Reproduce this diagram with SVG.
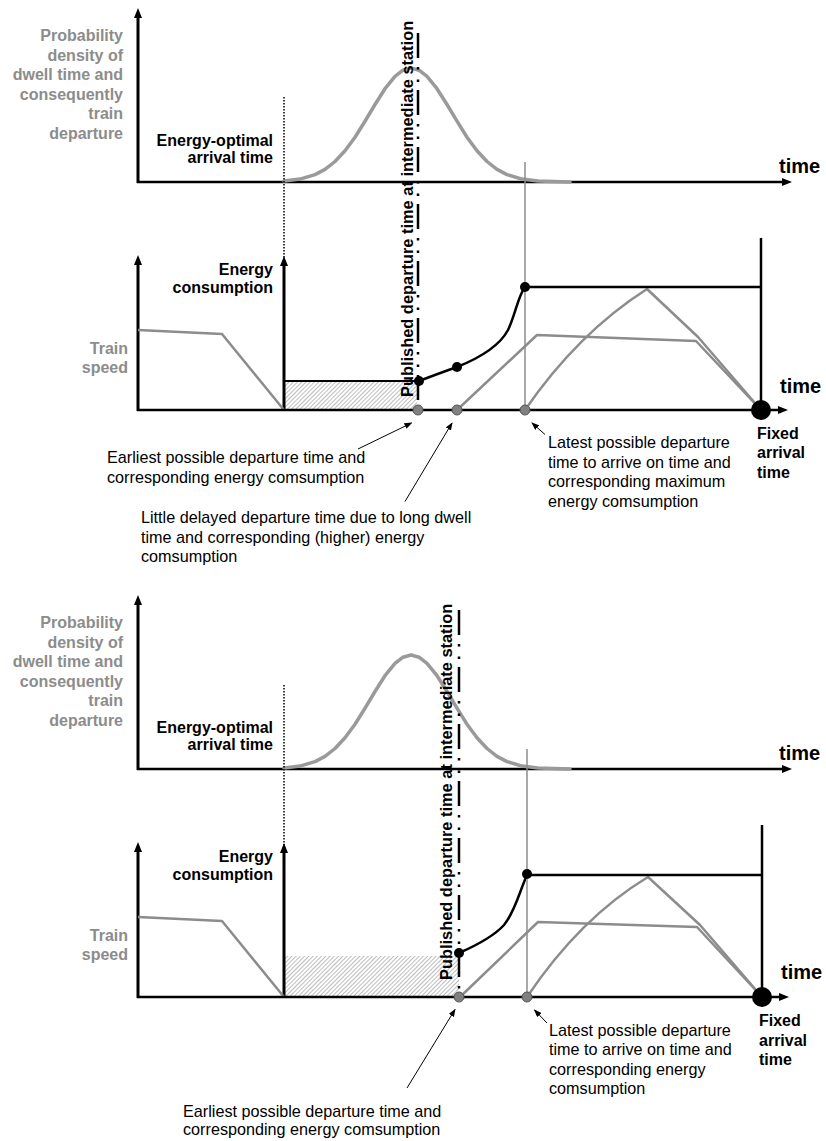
<svg xmlns="http://www.w3.org/2000/svg" width="826" height="1141" viewBox="0 0 826 1141">
<style>
text{font-family:"Liberation Sans",Arial,Helvetica,sans-serif}
.lbl{font-size:16px;font-weight:bold;fill:#000}
.glbl{font-size:16px;font-weight:bold;fill:#8c8c8c}
.note{font-size:16.2px;fill:#000}
.tm{font-size:20px;font-weight:bold;fill:#000}
.vt{font-size:16.4px;font-weight:bold;fill:#000}
.axis{stroke:#000;stroke-width:3;fill:none;marker-end:url(#ax)}
.xaxis{stroke:#000;stroke-width:2.5;fill:none;marker-end:url(#ax)}
.speed{stroke:#8c8c8c;stroke-width:2.5;fill:none;stroke-linejoin:round}
.gauss{stroke:#9a9a9a;stroke-width:3.5;fill:none;stroke-linejoin:round;stroke-linecap:round}
.energy{stroke:#000;stroke-width:2.5;fill:none}
.pub{stroke:#000;stroke-width:2.5;stroke-dasharray:25 9 2.5 10 2.5 8;fill:none}
.opt{stroke:#000;stroke-width:1.5;stroke-dasharray:1.5 1.5;fill:none}
.lat{stroke:#8c8c8c;stroke-width:1.5;fill:none}
.gdot{fill:#808080;stroke:#555;stroke-width:1}
.bdot{fill:#000}
.ann{stroke:#000;stroke-width:1;fill:none;marker-end:url(#ah)}
</style>
<defs>
<marker id="ax" viewBox="0 0 10 8" markerWidth="10" markerHeight="8" markerUnits="userSpaceOnUse" refX="2" refY="4" orient="auto">
<path d="M0,0 L10,4 L0,8 z" fill="#000"/>
</marker>
<marker id="ah" viewBox="0 0 8 6" markerWidth="8" markerHeight="6" markerUnits="userSpaceOnUse" refX="7" refY="3" orient="auto">
<path d="M0,0 L8,3 L0,6 z" fill="#000"/>
</marker>
<pattern id="hatch" patternUnits="userSpaceOnUse" width="3" height="3" patternTransform="rotate(45)">
<line x1="0" y1="0" x2="0" y2="3" stroke="#7a7a7a" stroke-width="1"/>
</pattern>
<path id="gausscurve" d="M284,181.1 L300,179.1 L315,174.6 L325,169.4 L335,161.5 L345,150.8 L355,137.2 L365,121.2 L375,104.5 L385,88.7 L395,76.4 L403,70.2 L411,68 L419,70.2 L427,76.4 L437,88.7 L447,104.5 L457,121.2 L467,137.2 L477,150.8 L487,161.5 L497,169.4 L507,174.6 L522,179.1 L538,181.1 L570,182"/>
</defs>

<!-- ===== Scenario 1 ===== -->
<g id="prob-panel-1">
  <line class="axis" x1="138" y1="183" x2="138" y2="16"/>
  <line class="xaxis" x1="137" y1="182" x2="784" y2="182"/>
  <use href="#gausscurve" class="gauss"/>
  <text class="glbl" text-anchor="end" x="123" y="41">Probability</text>
  <text class="glbl" text-anchor="end" x="123" y="60.5">density of</text>
  <text class="glbl" text-anchor="end" x="123" y="80">dwell time and</text>
  <text class="glbl" text-anchor="end" x="123" y="99.5">consequently</text>
  <text class="glbl" text-anchor="end" x="123" y="119">train</text>
  <text class="glbl" text-anchor="end" x="123" y="138.5">departure</text>
  <text class="lbl" text-anchor="end" x="273" y="146">Energy-optimal</text>
  <text class="lbl" text-anchor="end" x="273" y="163">arrival time</text>
  <text class="tm" x="779" y="173">time</text>
</g>

<g id="energy-panel-1">
  <rect x="284" y="381" width="133" height="29" fill="url(#hatch)"/>
  <line x1="284" y1="381" x2="419" y2="381" stroke="#000" stroke-width="2"/>
  <line class="axis" x1="138" y1="411" x2="138" y2="263"/>
  <line class="axis" x1="284" y1="411" x2="284" y2="264"/>
  <polyline class="speed" points="138,330 222,334 284,410"/>
  <polyline class="speed" points="457,410 537,335 696,341 761,410"/>
  <path class="speed" d="M525,410 Q578,333 647,289 L698,337 L761,410"/>
  <path class="energy" d="M419,381 Q440,373 457,367 C482,357 500,345 508,330 C515,316 518,296 525,287 L761,287"/>
  <line x1="761" y1="238" x2="761" y2="410" stroke="#000" stroke-width="2.5"/>
  <line class="xaxis" x1="137" y1="410" x2="780" y2="410"/>
  <text class="lbl" text-anchor="end" x="273" y="275">Energy</text>
  <text class="lbl" text-anchor="end" x="273" y="293">consumption</text>
  <text class="glbl" text-anchor="end" x="128" y="354">Train</text>
  <text class="glbl" text-anchor="end" x="128" y="373">speed</text>
  <text class="tm" x="780" y="393">time</text>
  <text class="lbl" x="757" y="438.5">Fixed</text>
  <text class="lbl" x="757" y="458">arrival</text>
  <text class="lbl" x="757" y="477.5">time</text>
</g>

<g id="markers-1">
  <line class="opt" x1="284" y1="97" x2="284" y2="258"/>
  <line class="lat" x1="525" y1="162" x2="525" y2="410"/>
  <line class="pub" x1="418" y1="33" x2="418" y2="410"/>
  <text class="vt" transform="translate(413,397) rotate(-90)">Published departure time at intermediate station</text>
  <circle class="bdot" cx="419" cy="381" r="5"/>
  <circle class="bdot" cx="457" cy="367" r="5"/>
  <circle class="bdot" cx="525" cy="287" r="5"/>
  <circle class="gdot" cx="418" cy="410" r="5"/>
  <circle class="gdot" cx="457" cy="410" r="5"/>
  <circle class="gdot" cx="525" cy="410" r="5"/>
  <circle class="bdot" cx="761" cy="410" r="10"/>
</g>

<g id="annotations-1">
  <line class="ann" x1="358" y1="449" x2="411.5" y2="423"/>
  <line class="ann" x1="405" y1="501.5" x2="452" y2="423"/>
  <line class="ann" x1="545" y1="434.5" x2="532" y2="423"/>
  <text class="note" x="107" y="463">Earliest possible departure time and</text>
  <text class="note" x="107" y="482.5">corresponding energy comsumption</text>
  <text class="note" x="141" y="523">Little delayed departure time due to long dwell</text>
  <text class="note" x="141" y="542.5">time and corresponding (higher) energy</text>
  <text class="note" x="141" y="562">comsumption</text>
  <text class="note" x="548" y="448">Latest possible departure</text>
  <text class="note" x="548" y="467.7">time to arrive on time and</text>
  <text class="note" x="548" y="487.3">corresponding maximum</text>
  <text class="note" x="548" y="507">energy comsumption</text>
</g>

<!-- ===== Scenario 2 ===== -->
<g id="prob-panel-2">
  <line class="axis" x1="138" y1="770" x2="138" y2="603"/>
  <line class="xaxis" x1="137" y1="769" x2="784" y2="769"/>
  <use href="#gausscurve" class="gauss" transform="translate(0,587)"/>
  <text class="glbl" text-anchor="end" x="123" y="628">Probability</text>
  <text class="glbl" text-anchor="end" x="123" y="647.5">density of</text>
  <text class="glbl" text-anchor="end" x="123" y="667">dwell time and</text>
  <text class="glbl" text-anchor="end" x="123" y="686.5">consequently</text>
  <text class="glbl" text-anchor="end" x="123" y="706">train</text>
  <text class="glbl" text-anchor="end" x="123" y="725.5">departure</text>
  <text class="lbl" text-anchor="end" x="273" y="733">Energy-optimal</text>
  <text class="lbl" text-anchor="end" x="273" y="750">arrival time</text>
  <text class="tm" x="779" y="760">time</text>
</g>

<g id="energy-panel-2">
  <rect x="284" y="956" width="175" height="41" fill="url(#hatch)"/>
  <line class="axis" x1="138" y1="998" x2="138" y2="850"/>
  <line class="axis" x1="284" y1="998" x2="284" y2="851"/>
  <polyline class="speed" points="138,917 222,921 284,997"/>
  <polyline class="speed" points="460,997 538,922 697,927 762,997"/>
  <path class="speed" d="M527,997 Q580,918 648,877 L700,925 L762,997"/>
  <path class="energy" d="M459,953 C475,946 494,936 504,925 C515,912 520,890 527,875 L762,875"/>
  <line x1="762" y1="825" x2="762" y2="997" stroke="#000" stroke-width="2.5"/>
  <line class="xaxis" x1="137" y1="997" x2="781" y2="997"/>
  <text class="lbl" text-anchor="end" x="273" y="862">Energy</text>
  <text class="lbl" text-anchor="end" x="273" y="880">consumption</text>
  <text class="glbl" text-anchor="end" x="128" y="941">Train</text>
  <text class="glbl" text-anchor="end" x="128" y="960">speed</text>
  <text class="tm" x="781" y="979">time</text>
  <text class="lbl" x="759" y="1025.5">Fixed</text>
  <text class="lbl" x="759" y="1045.5">arrival</text>
  <text class="lbl" x="759" y="1065">time</text>
</g>

<g id="markers-2">
  <line class="opt" x1="284" y1="685" x2="284" y2="845"/>
  <line class="lat" x1="527" y1="749" x2="527" y2="997"/>
  <line class="pub" x1="459" y1="610" x2="459" y2="997"/>
  <text class="vt" transform="translate(452,980) rotate(-90)">Published departure time at intermediate station</text>
  <circle class="bdot" cx="459" cy="953" r="5"/>
  <circle class="bdot" cx="527" cy="874" r="5"/>
  <circle class="gdot" cx="459" cy="997" r="5"/>
  <circle class="gdot" cx="527" cy="997" r="5"/>
  <circle class="bdot" cx="762" cy="997" r="10"/>
</g>

<g id="annotations-2">
  <line class="ann" x1="547" y1="1023" x2="534.5" y2="1010"/>
  <line class="ann" x1="407" y1="1088" x2="455" y2="1009.5"/>
  <text class="note" x="549" y="1035.5">Latest possible departure</text>
  <text class="note" x="549" y="1055">time to arrive on time and</text>
  <text class="note" x="549" y="1074.5">corresponding energy</text>
  <text class="note" x="549" y="1094">comsumption</text>
  <text class="note" x="183" y="1116.5">Earliest possible departure time and</text>
  <text class="note" x="183" y="1135">corresponding energy comsumption</text>
</g>
</svg>
